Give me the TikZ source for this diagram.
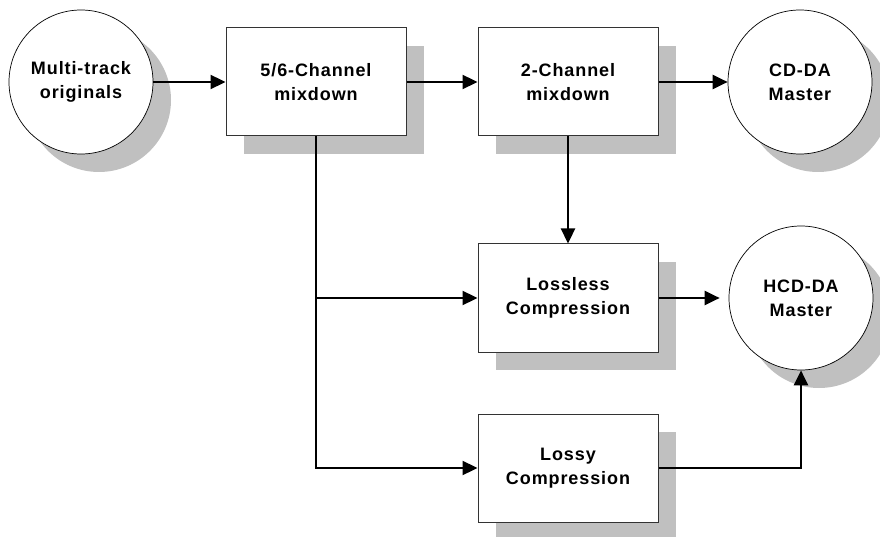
\documentclass[tikz,border=0pt]{standalone}
\usepackage{fontspec}
\setmainfont{Liberation Sans}[LetterSpace=5]
\usepackage{tikz}
\usetikzlibrary{arrows.meta,shadows}
\definecolor{ShadeGray}{HTML}{C0C0C0}
\definecolor{EdgeGray}{HTML}{333333}

\tikzset{
  stagebox/.style={
    draw=EdgeGray, line width=1pt, fill=white,
    minimum width=180pt, minimum height=108pt,
    align=center, font=\fontsize{18}{24}\selectfont\bfseries,
    drop shadow={shadow xshift=18pt, shadow yshift=-18pt, fill=ShadeGray, opacity=1}
  },
  masterdisc/.style={
    circle, draw=black, line width=0.7pt, fill=white,
    minimum size=144pt, inner sep=0pt,
    align=center, font=\fontsize{18}{24}\selectfont\bfseries,
    drop shadow={shadow xshift=18pt, shadow yshift=-18pt, fill=ShadeGray, opacity=1}
  },
  flow/.style={
    draw=black, line width=2.3pt,
    -{Triangle[length=15pt,width=14pt]}
  }
}

\begin{document}
\begin{tikzpicture}[x=1pt,y=1pt]
  \useasboundingbox (0,0) rectangle (880,536);

  % top row
  \node[masterdisc] (orig)  at (81,454)  {Multi-track\\originals};
  \node[stagebox]   (mix56) at (316,454) {5/6-Channel\\mixdown};
  \node[stagebox]   (mix2)  at (568,454) {2-Channel\\mixdown};
  \node[masterdisc] (cdda)  at (800,454) {CD-DA\\Master};

  % compression stages
  \node[stagebox]   (lossless) at (568,238) {Lossless\\Compression};
  \node[masterdisc] (hcdda)    at (801,238) {HCD-DA\\Master};
  \node[stagebox]   (lossy)    at (568,68)  {Lossy\\Compression};

  \draw[flow] (orig) -- (mix56);
  \draw[flow] (mix56) -- (mix2);
  \draw[flow] (mix2) -- (cdda);
  \draw[flow] (mix2) -- (lossless);
  \draw[flow, shorten >=9pt] (lossless) -- (hcdda);
  \draw[flow] (mix56.south) |- (lossless.west);
  \draw[flow] (mix56.south) |- (lossy.west);
  \draw[flow] (lossy.east) -| (hcdda.south);
\end{tikzpicture}
\end{document}
